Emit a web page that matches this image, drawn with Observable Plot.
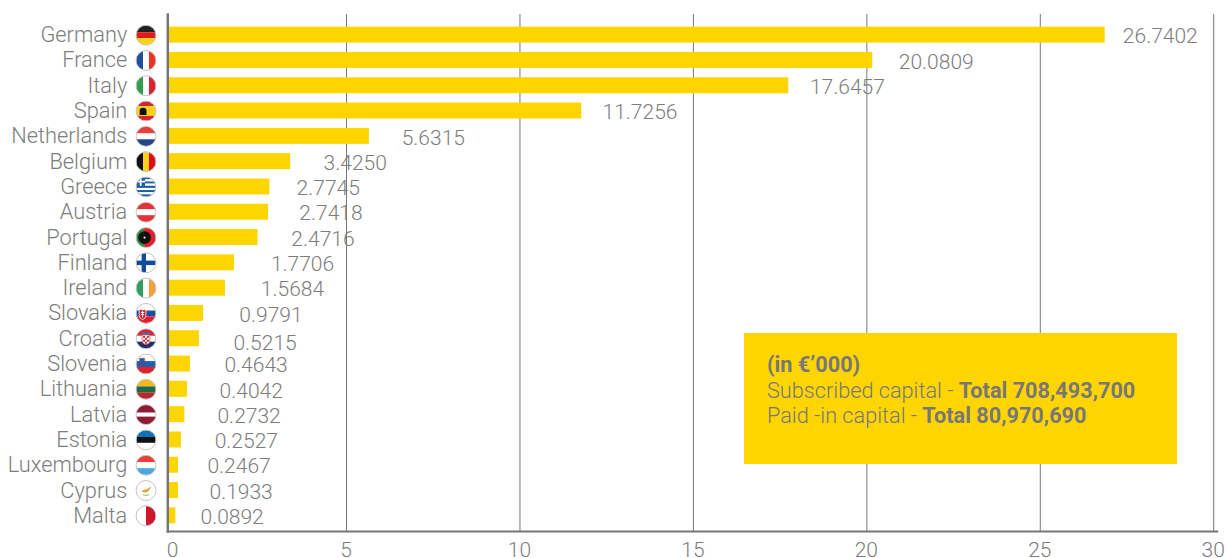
<!DOCTYPE html>
<html>
<head>
<meta charset="utf-8">
<script src="https://cdn.jsdelivr.net/npm/d3@7"></script>
<script src="https://cdn.jsdelivr.net/npm/@observablehq/plot@0.6"></script>
<style>
html,body{margin:0;padding:0;background:#fff}
#wrap{position:relative;width:1232px;height:558px;overflow:hidden}
#note{position:absolute;left:744px;top:333px;width:433px;height:131px;background:#FFD500;color:#777;font:300 21.7px/25.5px Roboto,sans-serif;box-sizing:border-box;padding:19px 0 0 23px;white-space:nowrap}
#note b{font-weight:700}
</style>
</head>
<body>
<div id="wrap"><div id="chart"></div>
<div id="note"><b>(in €’000)</b><br>Subscribed capital - <b>Total 708,493,700</b><br>Paid -in capital - <b>Total 80,970,690</b></div></div>
<script>
const countries = ["Germany","France","Italy","Spain","Netherlands","Belgium","Greece","Austria","Portugal","Finland","Ireland","Slovakia","Croatia","Slovenia","Lithuania","Latvia","Estonia","Luxembourg","Cyprus","Malta"];
const printedValues = ["26.7402","20.0809","17.6457","11.7256","5.6315","3.4250","2.7745","2.7418","2.4716","1.7706","1.5684","0.9791","0.5215","0.4643","0.4042","0.2732","0.2527","0.2467","0.1933","0.0892"];
// bar lengths as drawn in the picture (they differ slightly from the printed figures)
const barLengths = [26.87,20.17,17.75,11.78,5.66,3.39,2.79,2.75,2.45,1.77,1.51,0.88,0.76,0.50,0.415,0.34,0.24,0.155,0.155,0.08];
// where each printed figure starts, on the same axis
const figureStarts = [27.38,20.92,18.36,12.38,6.59,4.34,3.56,3.64,3.41,2.82,2.53,1.91,1.74,1.48,1.34,1.28,1.20,0.99,1.05,0.79];
const xTicks = [0,5,10,15,20,25,30];
const gridTicks = [5,10,15,20,25,30];

const h = (ys,cols)=>cols.map((c,i)=>`<rect x="0" y="${ys[i]}" width="20" height="${ys[i+1]-ys[i]}" fill="${c}"/>`).join("");
const v = (xs,cols)=>cols.map((c,i)=>`<rect y="0" x="${xs[i]}" height="20" width="${xs[i+1]-xs[i]}" fill="${c}"/>`).join("");
const h3 = (a,b,c)=>h([0,7,13,20],[a,b,c]);
const v3 = (a,b,c)=>v([0,7,13,20],[a,b,c]);
const flagArt = {
 Germany:h3("#222","#e21a1a","#fcd116"),
 France:v3("#1f4e9c","#fff","#ee3124"),
 Italy:v3("#2f9e4f","#fff","#d9232e"),
 Spain:h([0,5,15,20],["#d9232e","#fcd116","#d9232e"])+`<path d="M3.5 14V9.5Q3.5 6.5 7 6.5T10.5 9.5V14Z" fill="#111"/>`,
 Netherlands:h3("#e5413c","#fff","#21468b"),
 Belgium:v3("#111","#fcd116","#e30a17"),
 Greece:h([0,2.2,4.4,6.6,8.8,11,13.2,15.4,17.6,20],["#1c5da8","#fff","#1c5da8","#fff","#1c5da8","#fff","#1c5da8","#fff","#1c5da8"])+`<rect width="9" height="9" fill="#1c5da8"/><rect x="3.6" width="1.8" height="9" fill="#fff"/><rect y="3.6" width="9" height="1.8" fill="#fff"/>`,
 Austria:h3("#e5323b","#fff","#e5323b"),
 Portugal:v([0,8,20],["#2f8f46","#e2202c"])+`<circle cx="8.500" cy="10" r="6.500" fill="#111"/><circle cx="8.500" cy="10" r="1.100" fill="#eee"/>`,
 Finland:`<rect width="20" height="20" fill="#fff"/><rect x="5.5" width="4.5" height="20" fill="#0f4c9a"/><rect y="7.7" width="20" height="4.6" fill="#0f4c9a"/>`,
 Ireland:v3("#2f9e5f","#fff","#f5a13a"),
 Slovakia:h3("#fff","#1c4fa0","#e5202a")+`<path d="M3 6H10V12Q10 15 6.5 16.5Q3 15 3 12Z" fill="#e5202a" stroke="#fff" stroke-width=".8"/><path d="M6.5 7V14M4.8 9H8.2M5 11H8" stroke="#fff" stroke-width="1"/>`,
 Croatia:h3("#e5202a","#fff","#1c2f70")+`<path d="M6 6H14V12Q14 15.500 10 16Q6 15.500 6 12Z" fill="#fff" stroke="#d22" stroke-width=".6"/><path d="M7 7H9V9H7ZM11 7H13V9H11ZM9 9H11V11H9ZM7 11H9V13H7ZM11 11H13V13H11ZM9 13H11V15H9Z" fill="#d22"/><rect x="5" y="3.500" width="10" height="2" fill="#3a6fb5"/>`,
 Slovenia:h3("#fff","#1c5fb0","#e5202a")+`<path d="M3.500 4H8.500V7.500Q8.500 9.500 6 10.500Q3.500 9.500 3.500 7.500Z" fill="#1c5fb0" stroke="#e5202a" stroke-width=".5"/>`,
 Lithuania:h3("#f5b81c","#1f6b45","#b8292f"),
 Latvia:h([0,8,12,20],["#8f1c33","#fff","#8f1c33"]),
 Estonia:h3("#0f72b8","#111","#fff"),
 Luxembourg:h3("#e8413a","#fff","#4aa8e0"),
 Cyprus:`<rect width="20" height="20" fill="#fff"/><path d="M5 10.500Q8 8.500 10.500 9L15.500 5.500L13 10Q11 12.500 8 12Z" fill="#f0a030"/><path d="M7 14Q10 16 13 14" stroke="#9bbf9b" stroke-width="1.200" fill="none"/>`,
 Malta:v([0,10,20],["#fff","#cf142b"])
};
const flagSrc = c => "data:image/svg+xml;charset=utf-8," + encodeURIComponent(
 `<svg xmlns="http://www.w3.org/2000/svg" viewBox="-1 -1 22 22" width="66" height="66"><clipPath id="c"><circle cx="10" cy="10" r="10"/></clipPath><g clip-path="url(#c)">${flagArt[c]}</g><circle cx="10" cy="10" r="10.2" fill="none" stroke="#bbb" stroke-width="0.9"/></svg>`);

const rows = countries.map((c,i)=>({country:c,bar:barLengths[i],figure:printedValues[i],at:figureStarts[i],flag:flagSrc(c)}));
const grey = "#7d7d7d";

const chart = Plot.plot({
  width:1232, height:558,
  marginLeft:167.3, marginRight:15.3, marginTop:14, marginBottom:27,
  style:{fontFamily:"Roboto, sans-serif",fontWeight:300,fontSize:"21px",color:grey,background:"#fff"},
  x:{domain:[-0.152,30.1],label:null},
  y:{domain:countries,range:[17.35,532.65],padding:0.368,round:false,label:null},
  marks:[
    Plot.ruleX(gridTicks,{stroke:"#777",strokeWidth:1,strokeOpacity:1}),
    Plot.barX(rows,{y:"country",x1:()=>-0.14,x2:"bar",fill:"#FFD500"}),
    Plot.frame({anchor:"left",stroke:"#777",strokeWidth:2.5}),
    Plot.frame({anchor:"bottom",stroke:"#777",strokeWidth:2}),
    Plot.axisX({ticks:xTicks,tickFormat:d=>String(d),tickSize:0,tickPadding:11,dx:-0.5,fontSize:21,label:null,anchor:"bottom"}),
    Plot.axisY({anchor:"left",tickSize:0,tickPadding:40.5,fontSize:21.8,label:null}),
    Plot.image(rows,{src:"flag",x:()=>-0.78,y:"country",width:21.5,height:21.5}),
    Plot.text(rows,{filter:d=>d.country!=="Croatia",x:"at",y:"country",text:"figure",textAnchor:"start",dy:1.5,fontSize:21,fill:grey}),
    Plot.text(rows,{filter:d=>d.country==="Croatia",x:"at",y:"country",text:"figure",textAnchor:"start",dy:4.5,fontSize:21,fill:grey})
  ]
});
document.getElementById("chart").appendChild(chart);
</script>
</body>
</html>
